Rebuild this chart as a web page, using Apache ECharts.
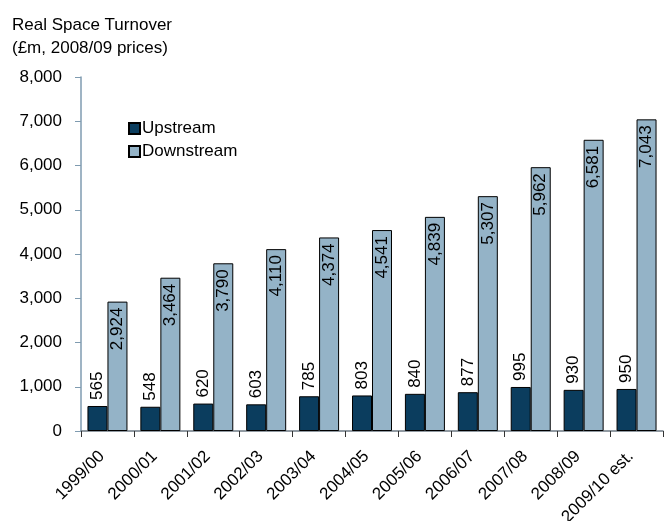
<!DOCTYPE html>
<html>
<head>
<meta charset="utf-8">
<script src="https://cdn.jsdelivr.net/npm/echarts@6/dist/echarts.min.js"></script>
<style>
  html, body { margin: 0; padding: 0; background: #fff; }
  #chart { width: 668px; height: 521px; }
</style>
</head>
<body>
<div id="chart"></div>
<script>
const years = ["1999/00", "2000/01", "2001/02", "2002/03", "2003/04", "2004/05",
  "2005/06", "2006/07", "2007/08", "2008/09", "2009/10 est."];
const upstream = [565, 548, 620, 603, 785, 803, 840, 877, 995, 930, 950];
const downstream = [2924, 3464, 3790, 4110, 4374, 4541, 4839, 5307, 5962, 6581, 7043];

const font = "Liberation Sans, Arial, sans-serif";
const fmt = v => v.toLocaleString("en-GB");

const chart = echarts.init(document.getElementById("chart"));
chart.setOption({
  animation: false,
  backgroundColor: "#fff",
  textStyle: { fontFamily: font },
  title: {
    text: "Real Space Turnover\n(£m, 2008/09 prices)",
    left: 7, top: 9,
    textStyle: { fontFamily: font, fontSize: 17, fontWeight: "normal", color: "#000", lineHeight: 23 }
  },
  legend: {
    orient: "vertical",
    left: 123, top: 115,
    itemWidth: 11, itemHeight: 11, itemGap: 6,
    icon: "rect",
    textStyle: { fontFamily: font, fontSize: 17, color: "#000", padding: [0, 0, 0, -3] },
    data: ["Upstream", "Downstream"]
  },
  grid: { left: 81, right: 5, top: 77, bottom: 90, containLabel: false, outerBoundsMode: "none" },
  xAxis: {
    type: "category",
    data: years,
    axisLine: { lineStyle: { color: "#6e7a84", width: 1.5 } },
    axisTick: { show: true, length: 6, lineStyle: { color: "#333" } },
    axisLabel: {
      rotate: 45, fontSize: 17, color: "#000", fontFamily: font, margin: 17, interval: 0,
      padding: [0, 8, 0, 0]
    }
  },
  yAxis: {
    type: "value",
    min: 0, max: 8000, interval: 1000,
    splitLine: { show: false },
    axisLine: { show: true, lineStyle: { color: "#7f9bb0", width: 1.5 } },
    axisTick: { show: true, length: 6, lineStyle: { color: "#7f9bb0" } },
    axisLabel: { fontSize: 17, color: "#000", fontFamily: font, margin: 19, formatter: fmt }
  },
  series: [
    {
      name: "Upstream",
      type: "bar",
      data: upstream,
      barWidth: 20,
      barGap: "0%",
      itemStyle: { color: "#0b3d5e", borderColor: "#000", borderWidth: 1 },
      label: {
        show: true, position: "top", rotate: 90, align: "left", verticalAlign: "middle",
        distance: 6, fontSize: 17, color: "#000", fontFamily: font, formatter: p => fmt(p.value)
      }
    },
    {
      name: "Downstream",
      type: "bar",
      data: downstream,
      barWidth: 20,
      itemStyle: { color: "#94b3c7", borderColor: "#000", borderWidth: 1 },
      label: {
        show: true, position: "insideTop", rotate: 90, align: "right", verticalAlign: "middle",
        distance: 6, fontSize: 17, color: "#000", fontFamily: font, formatter: p => fmt(p.value)
      }
    }
  ]
});
</script>
</body>
</html>
